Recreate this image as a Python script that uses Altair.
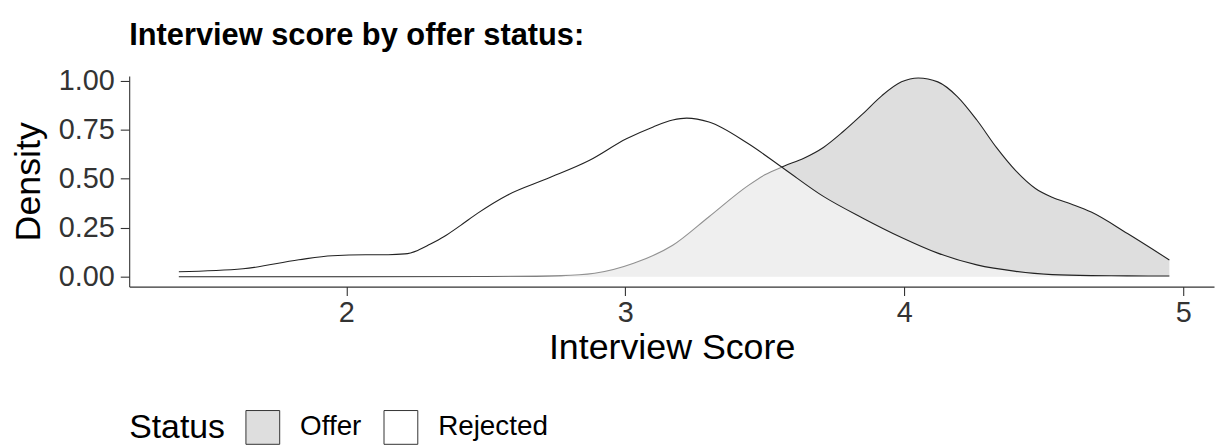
import altair as alt
import pandas as pd

rej_x = [1.40, 1.63, 1.83, 1.95, 2.07, 2.15, 2.21, 2.256, 2.30, 2.351, 2.41, 2.47, 2.577, 2.719,
         2.872, 3.004, 3.10, 3.17, 3.22, 3.30, 3.44, 3.57, 3.71, 3.85, 3.99, 4.12, 4.26, 4.40,
         4.53, 4.67, 4.80, 4.95]
rej_d = [0.025, 0.04, 0.086, 0.107, 0.112, 0.112, 0.116, 0.134, 0.165, 0.205, 0.262, 0.323,
         0.416, 0.50, 0.594, 0.704, 0.765, 0.80, 0.81, 0.79, 0.68, 0.55, 0.41, 0.30, 0.20,
         0.12, 0.06, 0.027, 0.01, 0.005, 0.004, 0.003]

off_x = [1.40, 2.00, 2.50, 2.77, 2.89, 3.03, 3.17, 3.30, 3.44, 3.50, 3.57, 3.64, 3.71, 3.78,
         3.85, 3.92, 3.99, 4.05, 4.12, 4.19, 4.26, 4.33, 4.40, 4.47, 4.53, 4.60, 4.67, 4.80, 4.95]
off_d = [0.0, 0.0, 0.001, 0.005, 0.017, 0.068, 0.16, 0.306, 0.465, 0.52, 0.565, 0.605, 0.66,
         0.74, 0.83, 0.925, 0.995, 1.015, 0.995, 0.92, 0.80, 0.66, 0.54, 0.45, 0.405, 0.37,
         0.33, 0.22, 0.085]

x_ticks = [2, 3, 4, 5]
y_ticks = [0.0, 0.25, 0.5, 0.75, 1.0]

df = pd.concat([
    pd.DataFrame({"score": off_x, "density": off_d, "Status": "Offer"}),
    pd.DataFrame({"score": rej_x, "density": rej_d, "Status": "Rejected"}),
])

FONT = "Liberation Sans"

xenc = alt.X("score:Q", scale=alt.Scale(domain=[1.222, 5.11], nice=False, zero=False),
             axis=alt.Axis(title="Interview Score", values=x_ticks, format="d"))
yenc = alt.Y("density:Q", scale=alt.Scale(domain=[-0.051, 1.025], nice=False, zero=False),
             axis=alt.Axis(title="Density", values=y_ticks, format=".2f"))

fill_scale = alt.Scale(domain=["Offer", "Rejected"], range=["#dedede", "#ffffff"])

def layer(status, opacity, show_legend):
    d = df[df.Status == status]
    area = alt.Chart(d).mark_area(interpolate="monotone", fillOpacity=opacity).encode(
        x=xenc, y=yenc,
        fill=alt.Fill("Status:N", scale=fill_scale,
                      legend=alt.Legend(title="Status", orient="none", direction="horizontal",
                                        legendX=0, legendY=336, titleOrient="left",
                                        symbolType="square", symbolSize=1156,
                                        symbolStrokeColor="#333333", symbolStrokeWidth=1,
                                        symbolOpacity=1,
                                        labelOffset=20, columnPadding=20, titlePadding=20)
                      if show_legend else None),
    )
    line = alt.Chart(d).mark_line(interpolate="monotone", color="#222222", strokeWidth=1.1).encode(
        x=xenc, y=yenc)
    return area, line

a1, l1 = layer("Offer", 1.0, True)
a2, l2 = layer("Rejected", 0.5, False)

chart = alt.layer(a1, l1, a2, l2).properties(
    width=1092, height=212,
    title=alt.TitleParams("Interview score by offer status:", anchor="start", frame="group",
                          font=FONT, fontSize=31, fontWeight="bold", color="#000000", offset=15),
    autosize=alt.AutoSizeParams(type="none"),
    padding={"left": 122, "top": 67, "right": 1, "bottom": 159},
).configure_view(stroke=None).configure_axis(
    grid=False, domainColor="#333333", domainWidth=1.1, tickColor="#333333", tickSize=9,
    tickWidth=1.1, labelFont=FONT, labelFontSize=29, labelColor="#333333",
    titleFont=FONT, titleFontSize=36, titleFontWeight="normal", titleColor="#000000",
).configure_axisY(titlePadding=11, labelPadding=6).configure_axisX(
    titlePadding=3, labelPadding=3).configure_legend(
    titleFont=FONT, titleFontSize=34, titleFontWeight="normal", titleColor="#000000",
    labelFont=FONT, labelFontSize=28, labelColor="#000000",
)

chart.save("out.html", embed_options={"renderer": "svg", "actions": False})
